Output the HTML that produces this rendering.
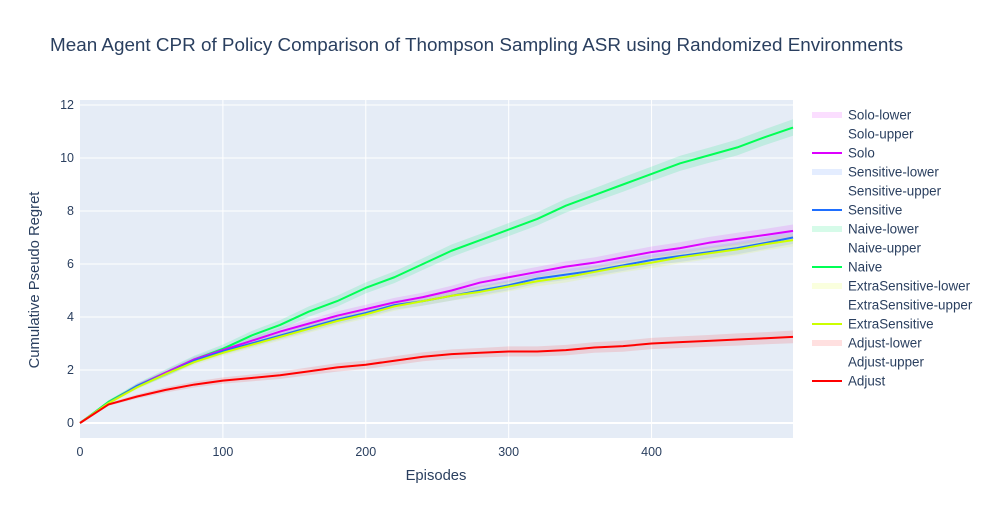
<!DOCTYPE html>
<html><head><meta charset="utf-8"><style>
body{margin:0;background:#fff;font-family:"Liberation Sans",sans-serif}
svg text{font-family:"Liberation Sans",sans-serif;fill:#2a3f5f}
</style></head><body>
<svg id="chart" width="992" height="520">
<rect width="992" height="520" fill="#fff"/>
<text x="50" y="51" font-size="18" textLength="853" lengthAdjust="spacingAndGlyphs">Mean Agent CPR of Policy Comparison of Thompson Sampling ASR using Randomized Environments</text>
<rect x="80" y="100" width="713" height="338" fill="#e5ecf6"/>
<g id="grid"></g><g id="bands"></g><g id="lines"></g><g id="axes"></g><g id="legend"></g>
<text x="436" y="480" font-size="14.8" text-anchor="middle">Episodes</text>
<text transform="translate(39,280) rotate(-90)" font-size="14.8" text-anchor="middle">Cumulative Pseudo Regret</text>
</svg>
<script>
const episodes=[0,20,40,60,80,100,120,140,160,180,200,220,240,260,280,300,320,340,360,380,400,420,440,460,480,499];
const naive=[0,0.8,1.4,1.9,2.4,2.8,3.3,3.7,4.2,4.6,5.1,5.5,6.0,6.5,6.9,7.3,7.7,8.2,8.6,9.0,9.4,9.8,10.1,10.4,10.8,11.15];
const solo=[0,0.75,1.4,1.9,2.4,2.75,3.1,3.45,3.75,4.05,4.3,4.55,4.75,5.0,5.3,5.5,5.7,5.9,6.05,6.25,6.45,6.6,6.8,6.95,7.1,7.25];
const sensitive=[0,0.75,1.4,1.85,2.35,2.7,3.0,3.3,3.6,3.9,4.15,4.45,4.6,4.8,5.0,5.2,5.45,5.6,5.75,5.95,6.15,6.3,6.45,6.6,6.8,7.0];
const extraSensitive=[0,0.75,1.35,1.85,2.3,2.65,2.95,3.25,3.55,3.85,4.1,4.4,4.6,4.8,4.95,5.15,5.35,5.5,5.7,5.9,6.05,6.25,6.4,6.55,6.75,6.9];
const adjust=[0,0.7,1.0,1.25,1.45,1.6,1.7,1.8,1.95,2.1,2.2,2.35,2.5,2.6,2.65,2.7,2.7,2.75,2.85,2.9,3.0,3.05,3.1,3.15,3.2,3.25];
const bandHalf=[0,0.05,0.08,0.1,0.11,0.12,0.13,0.14,0.15,0.16,0.16,0.17,0.17,0.18,0.18,0.19,0.19,0.2,0.2,0.21,0.21,0.22,0.22,0.23,0.23,0.24];
const xTicks=[0,100,200,300,400];
const yTicks=[0,2,4,6,8,10,12];
const NS="http://www.w3.org/2000/svg";
const X=v=>80+v*1.4289;
const Y=v=>423-v*26.5;
function mk(tag,attrs,parent){const e=document.createElementNS(NS,tag);for(const k in attrs)e.setAttribute(k,attrs[k]);document.getElementById(parent).appendChild(e);return e;}
xTicks.forEach(t=>{
 if(t>0){const l=mk('line',{x1:X(t),x2:X(t),y1:100,y2:438,stroke:'#fff','stroke-width':1},'grid');
 
 }
 const tx=mk('text',{x:X(t),y:456,'font-size':12.5,'text-anchor':'middle'},'axes');tx.textContent=t;
 
 
});
yTicks.forEach(t=>{
 const l=mk('line',{x1:80,x2:793,y1:Y(t),y2:Y(t),stroke:'#fff','stroke-width':t===0?2:1},'grid');
 
 
 const tx=mk('text',{x:74,y:Y(t)+4,'font-size':12.5,'text-anchor':'end'},'axes');tx.textContent=t;
 
 
});
const series=[
 {name:'Solo',data:solo,c:'#dd00ff',b:'rgba(221,0,255,0.13)'},
 {name:'Sensitive',data:sensitive,c:'#1f6fff',b:'rgba(31,111,255,0.12)'},
 {name:'Naive',data:naive,c:'#00ff55',b:'rgba(0,230,120,0.16)',k:1.3},
 {name:'ExtraSensitive',data:extraSensitive,c:'#ccff00',b:'rgba(220,255,0,0.13)'},
 {name:'Adjust',data:adjust,c:'#ff0000',b:'rgba(255,0,0,0.12)'}];
series.forEach(s=>{
 const k=s.k||1;
 const up=s.data.map((v,i)=>X(episodes[i])+','+Y(v+bandHalf[i]*k));
 const lo=s.data.map((v,i)=>X(episodes[i])+','+Y(v-bandHalf[i]*k)).reverse();
 const p=mk('polygon',{points:up.concat(lo).join(' '),fill:s.b},'bands');
 
 
});
[2,0,1,3,4].forEach(j=>{const s=series[j];
 const l=mk('polyline',{points:s.data.map((v,i)=>X(episodes[i])+','+Y(v)).join(' '),fill:'none',stroke:s.c,'stroke-width':2,'stroke-linejoin':'round'},'lines');
 
 
});
let ly=115;
series.forEach(s=>{
 [['-lower','band'],['-upper','none'],['','line']].forEach(([suf,kind])=>{
  if(kind==='band'){const r=mk('rect',{x:812,y:ly-3,width:30,height:6,fill:s.b},'legend');}
  if(kind==='line'){const r=mk('line',{x1:812,x2:842,y1:ly,y2:ly,stroke:s.c,'stroke-width':2},'legend');}
  const t=mk('text',{x:848,y:ly+4.5,'font-size':13.4},'legend');t.textContent=s.name+suf;
  
  
  ly+=19;
 });
});
</script>
</body></html>
